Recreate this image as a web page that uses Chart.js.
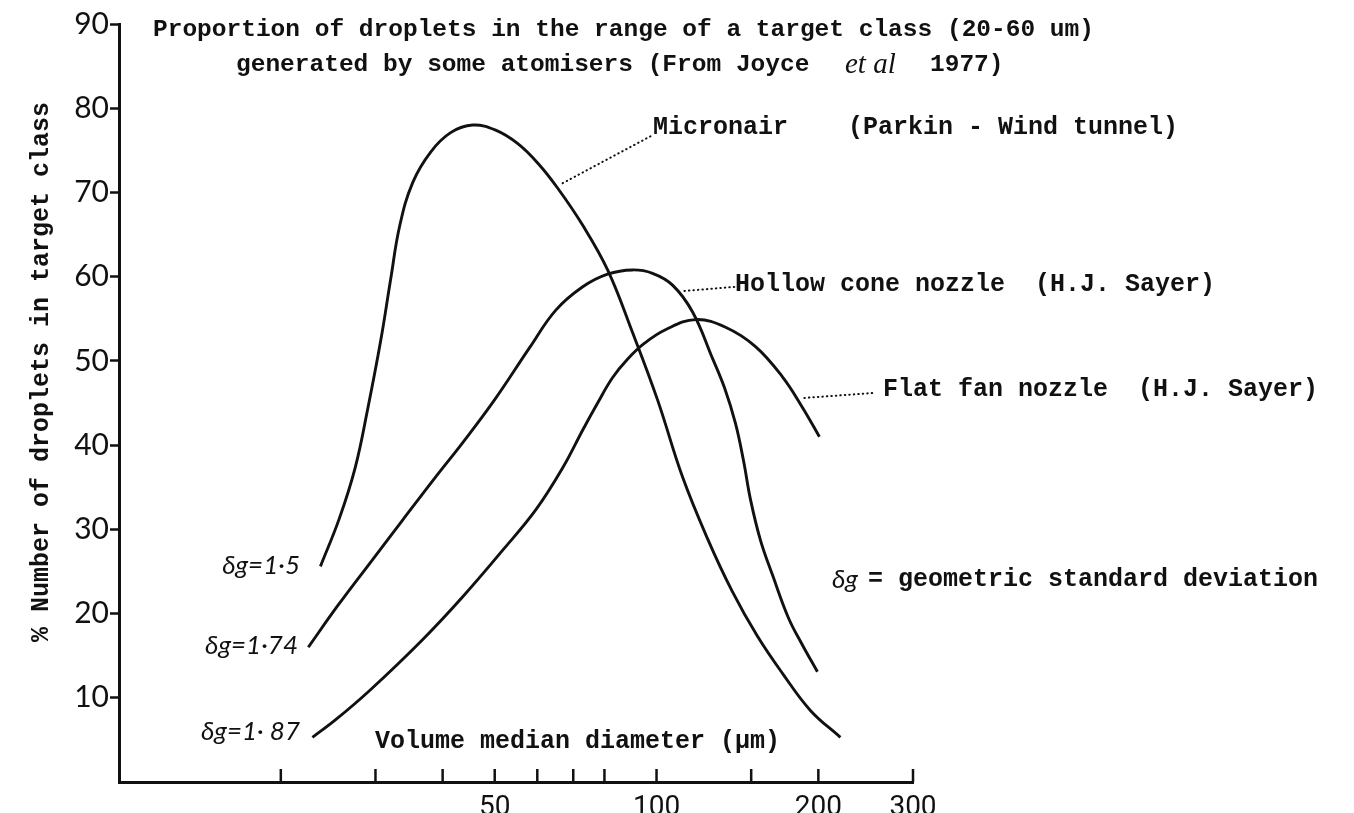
<!DOCTYPE html>
<html>
<head>
<meta charset="utf-8">
<script src="https://cdn.jsdelivr.net/npm/chart.js@4"></script>
<style>
  html, body { margin: 0; padding: 0; background: #fff; }
  #droplet_chart { display: block; }
</style>
</head>
<body>
<canvas id="droplet_chart" width="1354" height="813"></canvas>
<script>
// Volume median diameter (um) and % of droplets in the 20-60 um class
const micronairVmd = [23.7, 25.7, 27.5, 29.0, 30.7, 32.0, 33.3, 35.2, 38.0, 41.4, 45.5, 50.2, 55.2, 60.1, 65.5, 72.9, 81.1, 90.2, 100.4, 111.8, 124.4, 138.4, 154.1, 171.5, 193.3, 219.8];
const micronairPct = [25.6, 31.3, 37.3, 44.2, 52.5, 59.6, 66.1, 71.2, 74.8, 77.1, 78.0, 77.4, 75.8, 73.5, 70.5, 66.1, 60.8, 53.4, 45.4, 36.2, 28.9, 22.6, 17.3, 12.9, 8.5, 5.3];

const hollowVmd = [22.5, 25.5, 29.3, 33.7, 38.8, 43.6, 50.0, 58.1, 64.9, 72.9, 81.1, 90.2, 98.3, 107.1, 116.7, 127.1, 133.8, 140.2, 145.1, 149.6, 156.1, 164.3, 175.9, 186.7, 199.2];
const hollowPct = [16.0, 20.9, 26.0, 31.1, 36.2, 40.3, 45.4, 51.6, 56.0, 58.8, 60.3, 60.8, 60.4, 59.0, 55.8, 50.3, 46.8, 42.6, 38.2, 33.5, 28.7, 24.6, 19.5, 16.3, 13.1];

const flatFanVmd = [22.9, 25.3, 29.3, 36.7, 43.6, 51.7, 59.6, 66.9, 72.9, 77.7, 82.8, 88.3, 95.0, 103.9, 118.2, 134.4, 152.8, 171.5, 186.7, 200.9];
const flatFanPct = [5.3, 7.4, 10.9, 16.9, 22.0, 27.5, 32.3, 37.3, 41.8, 45.0, 48.0, 50.2, 52.1, 53.7, 54.9, 54.0, 51.7, 48.1, 44.5, 41.0];

const xTicks = [20, 30, 40, 50, 60, 70, 80, 100, 150, 200, 300];
const xLabels = [50, 100, 200, 300];
const yTicks = [10, 20, 30, 40, 50, 60, 70, 80, 90];

const ink = "#111";
const mono = "'Liberation Mono', 'DejaVu Sans Mono', monospace";
const typed = "bold 25px " + mono;
const heading = "bold 24.5px " + mono;
const symbol = "italic 26px Lato";

const toPoints = (xs, ys) => xs.map((x, i) => ({ x, y: ys[i] }));

const curve = (label, xs, ys) => ({
  label,
  data: toPoints(xs, ys),
  borderColor: ink,
  borderWidth: 2.9,
  pointRadius: 0,
  tension: 0.4,
  fill: false,
});

// leader lines from a curve to its label, in data units
const leaders = [
  [66.9, 71.1, 98.3, 76.8],
  [112.7, 58.3, 140.3, 58.8],
  [188.4, 45.6, 254.2, 46.2],
];

// text placed on the canvas: [text, x, y, font, align]
const notes = [
  ["Proportion of droplets in the range of a target class (20-60 um)", 153, 30, heading, "left"],
  ["generated by some atomisers (From Joyce", 236, 65, heading, "left"],
  ["et al", 845, 65, "italic 29px 'Liberation Serif'", "left"],
  ["1977)", 930, 65, heading, "left"],
  ["Micronair    (Parkin - Wind tunnel)", 653, 128, typed, "left"],
  ["Hollow cone nozzle  (H.J. Sayer)", 735, 285, typed, "left"],
  ["Flat fan nozzle  (H.J. Sayer)", 883, 390, typed, "left"],
  ["Volume median diameter (\u03bcm)", 375, 742, typed, "left"],
  ["\u03b4g", 832, 580, symbol, "left"],
  ["= geometric standard deviation", 868, 580, typed, "left"],
  ["\u03b4g=1\u00b75", 300, 566, symbol, "right"],
  ["\u03b4g=1\u00b774", 298, 646, symbol, "right"],
  ["\u03b4g=1\u00b7 87", 300, 732, symbol, "right"],
];

const annotate = {
  id: "annotate",
  afterDraw(chart) {
    const { ctx, chartArea, scales } = chart;
    const sx = scales.x, sy = scales.y;
    ctx.save();
    ctx.fillStyle = ink;
    ctx.strokeStyle = ink;

    // x ticks point up into the plot
    ctx.lineWidth = 2.5;
    xTicks.forEach((v) => {
      const px = sx.getPixelForValue(v);
      ctx.beginPath();
      ctx.moveTo(px, chartArea.bottom);
      ctx.lineTo(px, chartArea.bottom - 13);
      ctx.stroke();
    });

    // dotted leaders
    ctx.lineWidth = 2;
    ctx.lineCap = "round";
    ctx.setLineDash([0.5, 4]);
    leaders.forEach(([x1, y1, x2, y2]) => {
      ctx.beginPath();
      ctx.moveTo(sx.getPixelForValue(x1), sy.getPixelForValue(y1));
      ctx.lineTo(sx.getPixelForValue(x2), sy.getPixelForValue(y2));
      ctx.stroke();
    });
    ctx.setLineDash([]);

    ctx.textBaseline = "middle";
    notes.forEach(([text, x, y, font, align]) => {
      ctx.font = font;
      ctx.textAlign = align;
      ctx.fillText(text, x, y);
    });

    // y axis title
    ctx.translate(42, 372);
    ctx.rotate(-Math.PI / 2);
    ctx.textAlign = "center";
    ctx.font = "bold 25px " + mono;
    ctx.fillText("% Number of droplets in target class", 0, 0);
    ctx.restore();
  },
};

const ctx = document.getElementById("droplet_chart");

const config = {
  type: "line",
  data: {
    datasets: [
      curve("Micronair", micronairVmd, micronairPct),
      curve("Hollow cone nozzle", hollowVmd, hollowPct),
      curve("Flat fan nozzle", flatFanVmd, flatFanPct),
    ],
  },
  options: {
    responsive: false,
    animation: false,
    layout: { padding: { left: 0, top: 24, right: 441, bottom: 0 } },
    plugins: {
      legend: { display: false },
      tooltip: { enabled: false },
    },
    scales: {
      x: {
        type: "logarithmic",
        min: 10,
        max: 300,
        afterBuildTicks: (s) => {
          s.ticks = xTicks.map((v) => ({ value: v }));
        },
        afterFit: (s) => {
          s.height = 31;
        },
        ticks: {
          autoSkip: false,
          maxRotation: 0,
          padding: 1,
          color: ink,
          font: { family: "'Liberation Sans Narrow', 'Roboto', sans-serif", size: 28 },
          callback: (v) => (xLabels.includes(v) ? String(v) : ""),
        },
        grid: { display: false },
        border: { color: ink, width: 3 },
      },
      y: {
        min: 0,
        max: 90,
        afterBuildTicks: (s) => {
          s.ticks = yTicks.map((v) => ({ value: v }));
        },
        afterFit: (s) => {
          s.width = 119;
        },
        ticks: {
          padding: 1,
          color: ink,
          font: { family: "Lato", size: 30 },
        },
        grid: {
          drawOnChartArea: false,
          tickLength: 9,
          tickWidth: 2.5,
          tickColor: ink,
        },
        border: { color: ink, width: 3 },
      },
    },
  },
  plugins: [annotate],
};

new Chart(ctx, config);
</script>
</body>
</html>
